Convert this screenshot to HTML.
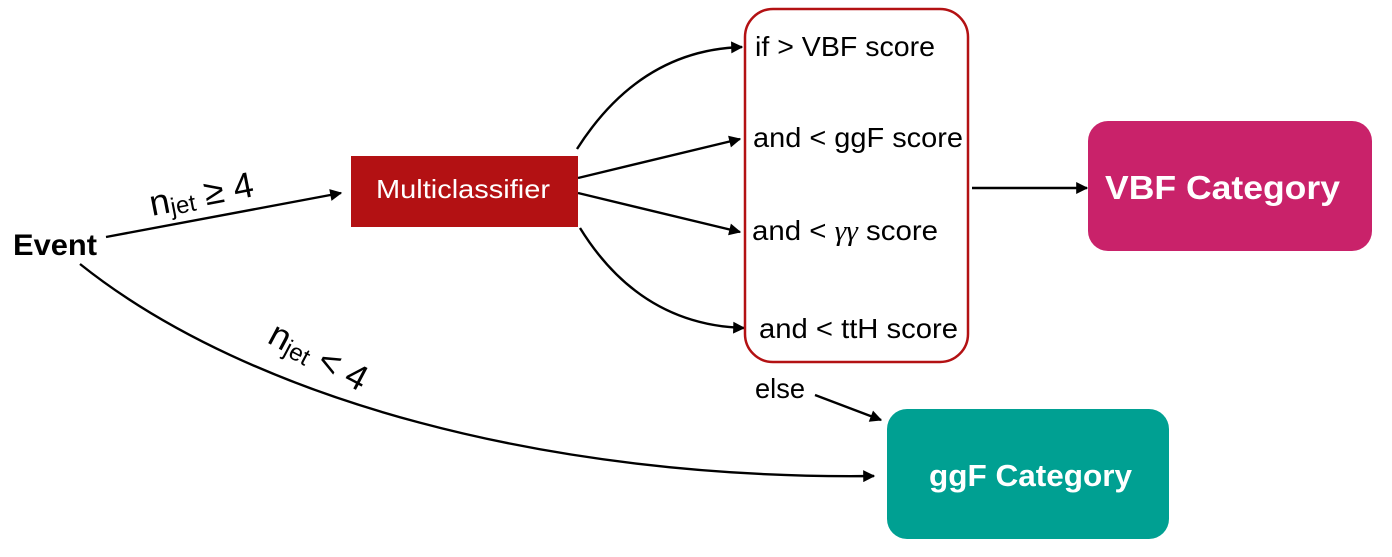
<!DOCTYPE html>
<html><head><meta charset="utf-8"><style>
html,body{margin:0;padding:0;background:#fff;width:1392px;height:557px;overflow:hidden}
svg{display:block;font-family:"Liberation Sans",Arial,sans-serif}
</style></head><body>
<svg width="1392" height="557" viewBox="0 0 1392 557" xmlns="http://www.w3.org/2000/svg">
<defs>
<marker id="a" viewBox="0 0 10 10" refX="9" refY="5" markerWidth="15" markerHeight="12" markerUnits="userSpaceOnUse" orient="auto">
<path d="M0,0 L10,5 L0,10 z" fill="#000"/></marker>
</defs>
<g fill="none" stroke="#000" stroke-width="2.4">
<path d="M106,237 L341,193" marker-end="url(#a)"/>
<path d="M80,264 C250,400 550,480 874,476" marker-end="url(#a)"/>
<path d="M577,149 Q640,50 742,47" marker-end="url(#a)"/>
<path d="M578,178 L740,139" marker-end="url(#a)"/>
<path d="M578,193 L740,232" marker-end="url(#a)"/>
<path d="M580,228 Q640,325 744,328" marker-end="url(#a)"/>
<path d="M815,395 L881,420" marker-end="url(#a)"/>
<path d="M972,188 L1087,188" marker-end="url(#a)"/>
</g>
<rect x="351" y="156" width="227" height="71" fill="#b31113"/>
<text x="376" y="198" font-size="26" fill="#fff" textLength="174" lengthAdjust="spacingAndGlyphs">Multiclassifier</text>
<rect x="745" y="9" width="223" height="353" rx="28" fill="none" stroke="#b31113" stroke-width="2.5"/>
<g font-size="28" fill="#000">
<text x="755" y="56" textLength="180" lengthAdjust="spacingAndGlyphs">if &gt; VBF score</text>
<text x="753" y="147" textLength="210" lengthAdjust="spacingAndGlyphs">and &lt; ggF score</text>
<text x="752" y="240" textLength="186" lengthAdjust="spacingAndGlyphs">and &lt; <tspan font-family="Liberation Serif" font-style="italic">γγ</tspan> score</text>
<text x="759" y="338" textLength="199" lengthAdjust="spacingAndGlyphs">and &lt; ttH score</text>
<text x="755" y="398" textLength="50" lengthAdjust="spacingAndGlyphs">else</text>
</g>
<text x="13" y="255" font-size="30" font-weight="bold" textLength="84" lengthAdjust="spacingAndGlyphs">Event</text>
<g transform="translate(152,216) rotate(-11)"><text font-size="36">n<tspan font-size="24" dy="3">jet</tspan><tspan dy="-3"> ≥ 4</tspan></text></g>
<g transform="translate(266,342) rotate(28)"><text font-size="36">n<tspan font-size="24" dy="3">jet</tspan><tspan dy="-3"> &lt; 4</tspan></text></g>
<rect x="1088" y="121" width="284" height="130" rx="20" fill="#c9226a"/>
<text x="1105" y="199" font-size="33" font-weight="bold" fill="#fff" textLength="235" lengthAdjust="spacingAndGlyphs">VBF Category</text>
<rect x="887" y="409" width="282" height="130" rx="20" fill="#00a092"/>
<text x="929" y="486" font-size="31" font-weight="bold" fill="#fff" textLength="203" lengthAdjust="spacingAndGlyphs">ggF Category</text>
</svg>
</body></html>
